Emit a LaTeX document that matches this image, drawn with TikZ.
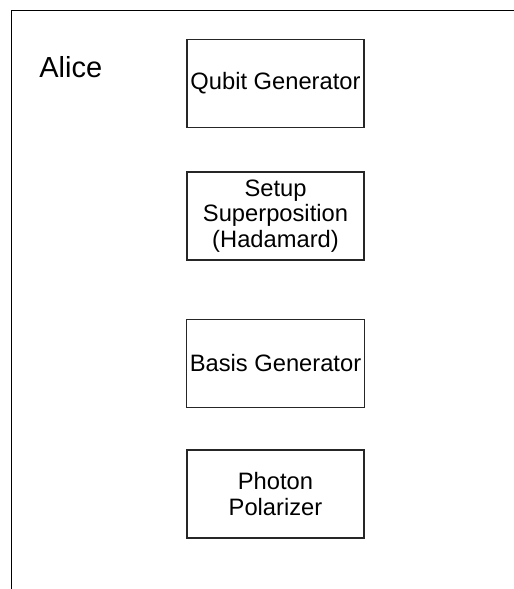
\documentclass[tikz,border=0pt]{standalone}
\usepackage{fontspec}
\setmainfont{Liberation Sans}
\usetikzlibrary{positioning}

\begin{document}
\begin{tikzpicture}[
  x=0.02cm, y=-0.02cm,
  node distance=0.87cm,
  frame/.style={draw=black, line width=1.1pt},
  blockbox/.style={rectangle, draw=black!85, line width=0.7pt, fill=white,
                   minimum width=3.54cm, minimum height=1.76cm, inner sep=2pt,
                   align=center, font=\fontsize{13.5}{14.6}\selectfont},
  party/.style={font=\fontsize{16.5}{18}\selectfont, inner sep=0pt}
]
\useasboundingbox (0,0) rectangle (514,589);

% lane frame, open on the right and at the bottom
\draw[frame] (514,10.5) -- (11.5,10.5) -- (11.5,589);

\node[party, anchor=base west] (alice) at (39,77) {Alice};

% Alice's steps, top to bottom
\node[blockbox] (qgen) at (275.5,83.3) {Qubit Generator};
\node[blockbox, below=of qgen] (hadamard) {Setup\\Superposition\\(Hadamard)};
\node[blockbox, below=1.16cm of hadamard] (basis) {Basis Generator};
\node[blockbox, below=0.83cm of basis] (polar) {Photon\\Polarizer};

\end{tikzpicture}
\end{document}
